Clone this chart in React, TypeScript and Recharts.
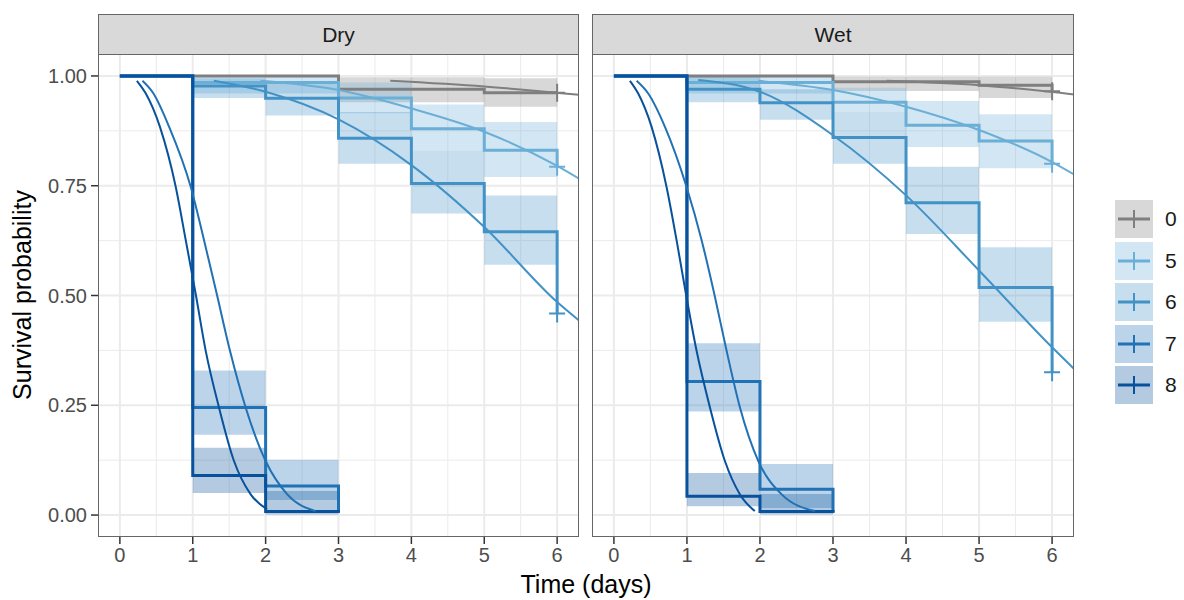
import {
  ComposedChart, Line, XAxis, YAxis, ReferenceLine, ReferenceArea, Scatter,
} from 'recharts';

const FONT = '"Liberation Sans", Arial, Helvetica, sans-serif';

// groups and colours (Blues palette, 0 = grey)
const GROUPS = ['0', '5', '6', '7', '8'];
const COLORS = ['#7f7f7f', '#6baed6', '#4292c6', '#2171b5', '#08519c'];
const CENSORED = ['0', '5', '6'];

const X_TICKS = [0, 1, 2, 3, 4, 5, 6];
const X_MINOR = [0.5, 1.5, 2.5, 3.5, 4.5, 5.5];
const Y_TICKS = [0, 0.25, 0.5, 0.75, 1];
const Y_MINOR = [0.125, 0.375, 0.625, 0.875];

// Kaplan-Meier rows: [time, survival, lower, upper] (band runs to next time)
const DRY_KM_0 = [[0, 1, 1, 1], [3, 0.970, 0.94, 0.997], [5, 0.962, 0.93, 0.995], [6, 0.962]];
const DRY_KM_5 = [[0, 1, 1, 1], [1, 0.985, 0.96, 1], [3, 0.95, 0.915, 0.985], [4, 0.88, 0.83, 0.935], [5, 0.831, 0.77, 0.895], [6, 0.793]];
const DRY_KM_6 = [[0, 1, 1, 1], [1, 0.977, 0.95, 0.995], [2, 0.949, 0.91, 0.985], [3, 0.858, 0.80, 0.918], [4, 0.755, 0.687, 0.83], [5, 0.645, 0.57, 0.728], [6, 0.459]];
const DRY_KM_7 = [[0, 1, 1, 1], [1, 0.245, 0.183, 0.329], [2, 0.066, 0.034, 0.126], [3, 0.005]];
const DRY_KM_8 = [[0, 1, 1, 1], [1, 0.09, 0.05, 0.153], [2, 0.008, 0.001, 0.055], [3, 0.005]];

const WET_KM_0 = [[0, 1, 1, 1], [3, 0.987, 0.966, 0.998], [5, 0.979, 0.95, 0.998], [6, 0.965]];
const WET_KM_5 = [[0, 1, 1, 1], [1, 0.985, 0.96, 1], [3, 0.94, 0.918, 0.973], [4, 0.888, 0.838, 0.943], [5, 0.852, 0.79, 0.913], [6, 0.80]];
const WET_KM_6 = [[0, 1, 1, 1], [1, 0.970, 0.94, 0.998], [2, 0.939, 0.90, 0.97], [3, 0.860, 0.80, 0.918], [4, 0.711, 0.64, 0.793], [5, 0.518, 0.44, 0.61], [6, 0.325]];
const WET_KM_7 = [[0, 1, 1, 1], [1, 0.304, 0.236, 0.391], [2, 0.059, 0.016, 0.116], [3, 0.005]];
const WET_KM_8 = [[0, 1, 1, 1], [1, 0.043, 0.02, 0.096], [2, 0.008, 0.001, 0.048], [3, 0.005]];

// fitted curves: [time, survival]
const DRY_FIT_0 = [[3.71, 0.989], [5, 0.976], [6.3, 0.957]];
const DRY_FIT_5 = [[1.93, 0.989], [3, 0.968], [4, 0.926], [5, 0.873], [6, 0.795], [6.3, 0.766]];
const DRY_FIT_6 = [[1.29, 0.989], [2, 0.964], [3, 0.901], [4, 0.797], [5, 0.656], [6, 0.485], [6.3, 0.443]];
const DRY_FIT_7 = [[0.31, 0.989], [0.461, 0.96], [0.676, 0.884], [0.973, 0.747], [1.155, 0.626], [1.329, 0.504], [1.511, 0.374], [1.726, 0.245], [2.0, 0.123], [2.297, 0.047], [2.685, 0.009]];
const DRY_FIT_8 = [[0.233, 0.989], [0.356, 0.96], [0.55, 0.884], [0.767, 0.747], [0.904, 0.626], [1.04, 0.504], [1.178, 0.374], [1.36, 0.245], [1.566, 0.123], [1.795, 0.047], [2.02, 0.013]];

const WET_FIT_0 = [[3.735, 0.989], [5, 0.979], [6.3, 0.958]];
const WET_FIT_5 = [[1.977, 0.989], [3, 0.968], [4, 0.93], [5, 0.877], [6, 0.804], [6.3, 0.776]];
const WET_FIT_6 = [[1.155, 0.991], [2, 0.964], [3, 0.865], [4, 0.728], [5, 0.557], [6, 0.382], [6.3, 0.333]];
const WET_FIT_7 = [[0.311, 0.989], [0.47, 0.96], [0.699, 0.884], [0.995, 0.747], [1.201, 0.626], [1.374, 0.504], [1.543, 0.374], [1.726, 0.245], [1.977, 0.123], [2.297, 0.047], [2.753, 0.009]];
const WET_FIT_8 = [[0.219, 0.989], [0.333, 0.96], [0.516, 0.884], [0.721, 0.747], [0.858, 0.626], [0.986, 0.504], [1.132, 0.374], [1.315, 0.245], [1.52, 0.123], [1.726, 0.047], [1.93, 0.009]];

const PANELS = [
  { label: 'Dry', km: [DRY_KM_0, DRY_KM_5, DRY_KM_6, DRY_KM_7, DRY_KM_8], fits: [DRY_FIT_0, DRY_FIT_5, DRY_FIT_6, DRY_FIT_7, DRY_FIT_8] },
  { label: 'Wet', km: [WET_KM_0, WET_KM_5, WET_KM_6, WET_KM_7, WET_KM_8], fits: [WET_FIT_0, WET_FIT_5, WET_FIT_6, WET_FIT_7, WET_FIT_8] },
];

const toPts = (rows: number[][]) => rows.map(r => ({ t: r[0], s: r[1] }));

const tickStyle = { fill: '#4d4d4d', fontSize: 20, fontFamily: FONT };

function Panel({ panel, left, plotWidth, showY }: { panel: typeof PANELS[0]; left: number; plotWidth: number; showY: boolean }) {
  const plotLeft = showY ? 98 : 0;
  const width = plotLeft + plotWidth + 10;
  return (
    <div style={{ position: 'absolute', left, top: 0 }}>
      <ComposedChart
        width={width}
        height={600}
        margin={{ top: 54, right: 10, bottom: 23, left: showY ? 38 : 0 }}
      >
        <XAxis
          type="number" dataKey="t" domain={[-0.3, 6.3]} ticks={X_TICKS} interval={0}
          allowDataOverflow axisLine={false} tickLine={{ stroke: '#333', strokeWidth: 1.5 }}
          tickSize={7} tickMargin={4} height={40} tick={tickStyle}
        />
        <YAxis
          type="number" dataKey="s" domain={[-0.05, 1.05]} ticks={Y_TICKS} interval={0}
          allowDataOverflow hide={!showY} width={60} axisLine={false}
          tickLine={{ stroke: '#333', strokeWidth: 1.5 }} tickSize={7} tickMargin={4}
          tick={tickStyle} tickFormatter={(v: number) => v.toFixed(2)}
        />

        {/* grid */}
        {X_MINOR.map(v => <ReferenceLine key={'xm' + v} x={v} stroke="#ebebeb" strokeWidth={1} zIndex={50} />)}
        {Y_MINOR.map(v => <ReferenceLine key={'ym' + v} y={v} stroke="#ebebeb" strokeWidth={1} zIndex={50} />)}
        {X_TICKS.map(v => <ReferenceLine key={'x' + v} x={v} stroke="#ebebeb" strokeWidth={2} zIndex={50} />)}
        {Y_TICKS.map(v => <ReferenceLine key={'y' + v} y={v} stroke="#ebebeb" strokeWidth={2} zIndex={50} />)}

        {/* confidence bands */}
        {panel.km.map((rows, g) =>
          rows.slice(0, -1).map((r, i) =>
            r[2] === r[3] ? null : (
              <ReferenceArea
                key={`band-${g}-${i}`}
                x1={r[0]} x2={rows[i + 1][0]} y1={r[2]} y2={r[3]}
                fill={COLORS[g]} fillOpacity={0.3} stroke="none" zIndex={100}
              />
            )
          )
        )}

        {/* KM steps */}
        {panel.km.map((rows, g) => (
          <Line
            key={'km' + g} data={toPts(rows)} dataKey="s" type="stepAfter"
            stroke={COLORS[g]} strokeWidth={3} dot={false} isAnimationActive={false}
          />
        ))}

        {/* fitted curves */}
        {panel.fits.map((rows, g) => (
          <Line
            key={'fit' + g} data={toPts(rows)} dataKey="s" type="monotone"
            stroke={COLORS[g]} strokeWidth={2} dot={false} isAnimationActive={false}
          />
        ))}

        {/* censor marks */}
        {panel.km.map((rows, g) =>
          CENSORED.includes(GROUPS[g]) ? (
            <Scatter
              key={'cen' + g} data={toPts(rows.slice(-1))} dataKey="s" isAnimationActive={false}
              shape={(p: any) => (
                <path d={`M${p.cx - 8},${p.cy}h16M${p.cx},${p.cy - 9}v18`} stroke={COLORS[g]} strokeWidth={2} fill="none" />
              )}
            />
          ) : null
        )}
      </ComposedChart>
      {/* strip */}
      <div style={{
        position: 'absolute', left: plotLeft, top: 14, width: plotWidth, height: 41, boxSizing: 'border-box',
        background: '#d9d9d9', border: '1px solid #666', fontFamily: FONT, fontSize: 21, color: '#1a1a1a',
        display: 'flex', alignItems: 'center', justifyContent: 'center',
      }}>{panel.label}</div>
      {/* panel border */}
      <div style={{
        position: 'absolute', left: plotLeft, top: 54, width: plotWidth, height: 483, boxSizing: 'border-box',
        border: '1px solid #666', pointerEvents: 'none',
      }} />
    </div>
  );
}

export default function App() {
  return (
    <div style={{ position: 'absolute', left: 0, top: 0, width: 1184, height: 600, background: '#fff', fontFamily: FONT }}>
      <Panel panel={PANELS[0]} left={0} plotWidth={481} showY />
      <Panel panel={PANELS[1]} left={592} plotWidth={482} showY={false} />

      {/* axis titles */}
      <div style={{ position: 'absolute', left: 98, width: 976, top: 569, textAlign: 'center', fontSize: 25, lineHeight: '30px', color: '#000' }}>
        Time (days)
      </div>
      <div style={{
        position: 'absolute', left: 22, top: 295, fontSize: 25, lineHeight: '30px', color: '#000', whiteSpace: 'nowrap',
        transform: 'translate(-50%, -50%) rotate(-90deg)',
      }}>
        Survival probability
      </div>

      {/* legend */}
      {GROUPS.map((g, i) => (
        <div key={g} style={{ position: 'absolute', left: 1115, top: 200 + i * 41.5, height: 38, display: 'flex', alignItems: 'center' }}>
          <svg width={38} height={38}>
            <rect x={0} y={0} width={38} height={38} fill={COLORS[i]} fillOpacity={0.3} />
            <line x1={3} x2={35} y1={19} y2={19} stroke={COLORS[i]} strokeWidth={3} />
            <line x1={19} x2={19} y1={10} y2={28} stroke={COLORS[i]} strokeWidth={2} />
          </svg>
          <span style={{ marginLeft: 12, fontSize: 21, color: '#1a1a1a' }}>{g}</span>
        </div>
      ))}
    </div>
  );
}
